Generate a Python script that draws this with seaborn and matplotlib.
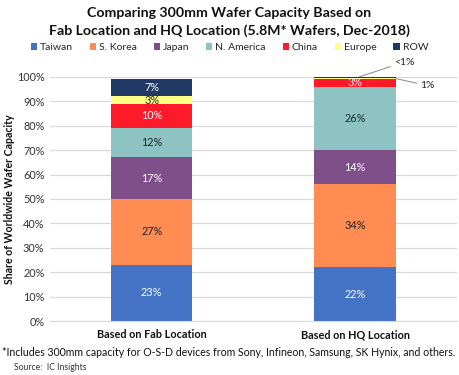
import matplotlib
matplotlib.use('Agg')
import matplotlib.pyplot as plt
from matplotlib.patches import Patch
import numpy as np
import pandas as pd
import seaborn as sns

# Data
locations = ['Based on Fab Location', 'Based on HQ Location']
regions = ['Taiwan', 'S. Korea', 'Japan', 'N. America', 'China', 'Europe', 'ROW']
fab_share = [23, 27, 17, 12, 10, 3, 7]
hq_share = [22, 34, 14, 26, 3, 0.5, 1]
fab_labels = ['23%', '27%', '17%', '12%', '10%', '3%', '7%']
hq_labels = ['22%', '34%', '14%', '26%', '3%', '<1%', '1%']
yticks = [0, 10, 20, 30, 40, 50, 60, 70, 80, 90, 100]

colors = ['#4472C4', '#FF8C52', '#7F4F8A', '#8DC3C3', '#FF1A2A', '#FFFF88', '#1F3864']
text_colors = ['white', '#222222', 'white', '#222222', 'white', '#222222', 'white']

df = pd.DataFrame({'location': np.repeat(locations, len(regions)),
                   'region': regions * 2,
                   'share': fab_share + hq_share})

sns.set_style('white')
plt.rcParams['font.family'] = ['Lato', 'DejaVu Sans']

fig = plt.figure(figsize=(4.59, 3.75), dpi=100)
ax = fig.add_axes([0.109, 0.144, 0.886, 0.651])

bottom = np.zeros(len(locations))
for i, reg in enumerate(regions):
    sub = df[df['region'] == reg]
    vals = sub['share'].to_numpy()
    sns.barplot(x=sub['location'], y=vals, bottom=bottom, color=colors[i],
                width=0.4, ax=ax, order=locations, saturation=1,
                linewidth=0, edgecolor='none')
    for j in range(len(locations)):
        lab = (fab_labels if j == 0 else hq_labels)[i]
        if j == 1 and i >= 5:
            continue
        ax.text(j, bottom[j] + vals[j] / 2, lab, ha='center', va='center',
                fontsize=7.8, color=text_colors[i])
    bottom = bottom + vals

# leader-line labels for tiny HQ segments
ax.annotate('<1%', xy=(1.02, 100), xycoords='data',
            xytext=(1.19, 106), textcoords='data', fontsize=7.5, color='#222222',
            ha='left', va='center', annotation_clip=False,
            arrowprops=dict(arrowstyle='-', color='#888888', lw=0.7,
                            shrinkA=0, shrinkB=0))
ax.annotate('1%', xy=(1.2, 99.3), xycoords='data',
            xytext=(1.32, 96.5), textcoords='data', fontsize=7.5, color='#222222',
            ha='left', va='center', annotation_clip=False,
            arrowprops=dict(arrowstyle='-', color='#888888', lw=0.7,
                            shrinkA=0, shrinkB=0))

ax.set_ylim(0, 100)
ax.set_xlim(-0.5, 1.5)
ax.set_yticks(yticks)
ax.set_yticklabels([f'{t}%' for t in yticks], fontsize=7.8, color='#333333')
ax.set_xticks(range(len(locations)))
ax.set_xticklabels(locations, fontsize=7.8, fontweight='bold', color='#111111')
ax.set_xlabel('')
ax.set_ylabel('Share of Worldwide Wafer Capacity', fontsize=7.6, fontweight='bold',
              color='#111111', va='center')
ax.yaxis.set_label_coords(-0.1, 0.5)
ax.yaxis.grid(True, color='#D9D9D9', lw=0.9)
ax.set_axisbelow(True)
ax.tick_params(axis='both', length=0, pad=4)
ax.tick_params(axis='x', pad=6)
for s in ['top', 'right', 'left']:
    ax.spines[s].set_visible(False)
ax.spines['bottom'].set_color('#D9D9D9')

fig.text(0.5, 0.965, 'Comparing 300mm Wafer Capacity Based on', ha='center', va='center',
         fontsize=10.2, fontweight='bold', color='#111111')
fig.text(0.5, 0.918, 'Fab Location and HQ Location (5.8M* Wafers, Dec-2018)', ha='center',
         va='center', fontsize=10.2, fontweight='bold', color='#111111')

handles = [Patch(facecolor=c, edgecolor='none') for c in colors]
fig.legend(handles, regions, loc='center', bbox_to_anchor=(0.5, 0.873), ncol=7,
           frameon=False, fontsize=7.5, handlelength=0.6, handleheight=0.6,
           handletextpad=0.3, columnspacing=1.6)

fig.text(0.005, 0.061, '*Includes 300mm capacity for O-S-D devices from Sony, Infineon, Samsung, SK Hynix, and others.',
         fontsize=7.6, color='#111111', va='center')
fig.text(0.03, 0.019, 'Source:  IC Insights', fontsize=6.2, color='#333333', va='center')

fig.savefig('out.png', dpi=100)
